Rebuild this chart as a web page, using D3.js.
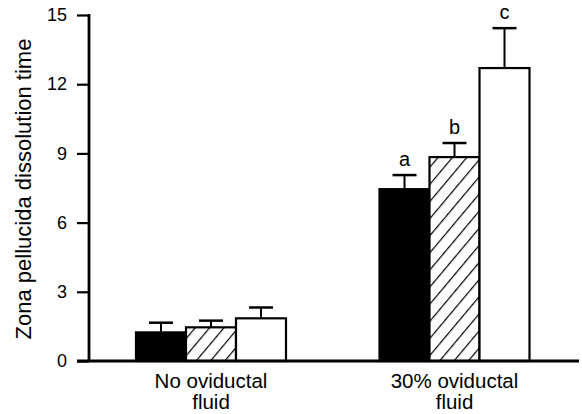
<!DOCTYPE html>
<html>
<head>
<meta charset="utf-8">
<script src="https://cdn.jsdelivr.net/npm/d3@7"></script>
<style>
  body { margin: 0; background: #fff; }
  text { font-family: "Liberation Sans", Arial, sans-serif; fill: #000; }
</style>
</head>
<body>
<svg id="drawing_region"></svg>
<script>
// data
const groups = ["No oviductal fluid", "30% oviductal fluid"];
const groupLines = [["No oviductal", "fluid"], ["30% oviductal", "fluid"]];
const series = ["black", "hatched", "white"];
const means = [[1.24, 1.46, 1.85], [7.45, 8.84, 12.7]];
const errors = [[0.42, 0.29, 0.47], [0.61, 0.61, 1.73]];
const letters = [["", "", ""], ["a", "b", "c"]];
const yTicks = [0, 3, 6, 9, 12, 15];

const width = 582, height = 414;
const margin = {top: 15, right: 3, bottom: 53, left: 89};

const svg = d3.select('#drawing_region')
    .attr('width', width)
    .attr('height', height);

const defs = svg.append('defs');
const pat = defs.append('pattern')
    .attr('id', 'hatch')
    .attr('patternUnits', 'userSpaceOnUse')
    .attr('width', 11)
    .attr('height', 11)
    .attr('patternTransform', 'rotate(40)');
pat.append('rect').attr('width', 11).attr('height', 11).attr('fill', 'white');
pat.append('line')
    .attr('x1', 0).attr('y1', 0).attr('x2', 0).attr('y2', 11)
    .attr('stroke', 'black').attr('stroke-width', 2.4);

const fills = {black: '#000', hatched: 'url(#hatch)', white: '#fff'};

const y = d3.scaleLinear()
    .domain([0, 15])
    .range([height - margin.bottom, margin.top]);

// group centres
const x0 = d3.scalePoint()
    .domain(groups)
    .range([211, 454.5]);
const x1 = d3.scaleBand()
    .domain(series)
    .range([-75, 75]);

const plot = svg.append('g');

// bars
groups.forEach((g, gi) => {
    const gx = x0(g);
    const gg = plot.append('g').attr('transform', `translate(${gx},0)`);
    const rows = series.map((s, si) => ({s: s, v: means[gi][si], e: errors[gi][si], l: letters[gi][si]}));

    gg.selectAll('.err')
        .data(rows)
        .enter()
        .append('line')
        .attr('x1', d => x1(d.s) + x1.bandwidth() / 2)
        .attr('x2', d => x1(d.s) + x1.bandwidth() / 2)
        .attr('y1', d => y(d.v))
        .attr('y2', d => y(d.v + d.e))
        .attr('stroke', 'black')
        .attr('stroke-width', 2);

    gg.selectAll('.cap')
        .data(rows)
        .enter()
        .append('line')
        .attr('x1', d => x1(d.s) + x1.bandwidth() / 2 - 12)
        .attr('x2', d => x1(d.s) + x1.bandwidth() / 2 + 12)
        .attr('y1', d => y(d.v + d.e))
        .attr('y2', d => y(d.v + d.e))
        .attr('stroke', 'black')
        .attr('stroke-width', 2.5);

    gg.selectAll('.bar')
        .data(rows)
        .enter()
        .append('rect')
        .attr('x', d => x1(d.s))
        .attr('y', d => y(d.v))
        .attr('width', x1.bandwidth())
        .attr('height', d => y(0) - y(d.v))
        .attr('fill', d => fills[d.s])
        .attr('stroke', 'black')
        .attr('stroke-width', 2.2);

    gg.selectAll('.letter')
        .data(rows)
        .enter()
        .append('text')
        .attr('x', d => x1(d.s) + x1.bandwidth() / 2)
        .attr('y', d => y(d.v + d.e) - 9)
        .attr('text-anchor', 'middle')
        .style('font-size', '20px')
        .text(d => d.l);

    const lab = plot.append('text')
        .attr('x', gx)
        .attr('y', 388)
        .attr('text-anchor', 'middle')
        .style('font-size', '20.5px');
    groupLines[gi].forEach((t, i) => {
        lab.append('tspan')
            .attr('x', gx)
            .attr('dy', i === 0 ? 0 : 21)
            .text(t);
    });
});

// axes
const yAxis = d3.axisLeft(y)
    .tickValues(yTicks)
    .tickSize(12)
    .tickPadding(10);
const ya = svg.append('g')
    .attr('transform', `translate(${margin.left},0)`)
    .call(yAxis);
ya.select('.domain').remove();
ya.selectAll('line').attr('stroke', 'black').attr('stroke-width', 2.2);
ya.selectAll('text')
    .style('font-size', '18px')
    .style('font-family', '"Liberation Sans", Arial, sans-serif');

svg.append('line')
    .attr('x1', margin.left).attr('x2', margin.left)
    .attr('y1', y(15) - 1).attr('y2', y(0) + 1)
    .attr('stroke', 'black').attr('stroke-width', 2.8);
svg.append('line')
    .attr('x1', margin.left - 12).attr('x2', width - margin.right)
    .attr('y1', y(0)).attr('y2', y(0))
    .attr('stroke', 'black').attr('stroke-width', 2.8);

svg.append('text')
    .attr('transform', `translate(31,${(y(0) + y(15)) / 2 + 1}) rotate(-90)`)
    .attr('text-anchor', 'middle')
    .style('font-size', '22px')
    .text('Zona pellucida dissolution time');
</script>
</body>
</html>
